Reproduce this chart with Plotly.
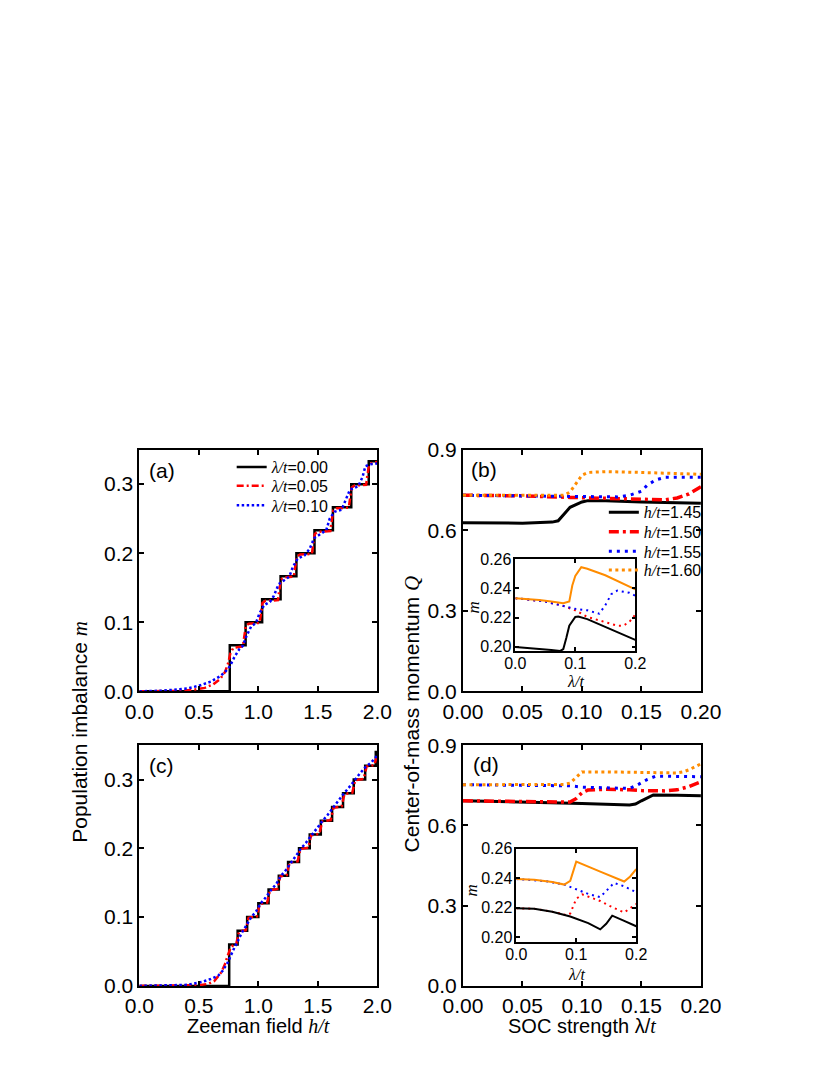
import plotly.graph_objects as go

# ---------------- data ----------------
# panel (a): population imbalance m vs h/t
h_a_l000 = [0, 0.76, 0.893, 1.032, 1.187, 1.32, 1.472, 1.627, 1.781, 1.928, 2.0]
m_a_l000 = [0, 0.0667, 0.1, 0.1333, 0.1667, 0.2, 0.2333, 0.2667, 0.3, 0.3333, 0.3333]
h_a_l005 = [0, 0.3, 0.45, 0.55, 0.62, 0.68, 0.72, 0.745, 0.765, 0.79, 0.87, 0.88, 0.895, 0.92,
            1.01, 1.02, 1.035, 1.06, 1.165, 1.175, 1.19, 1.22, 1.298, 1.308, 1.323, 1.35,
            1.45, 1.46, 1.475, 1.5, 1.605, 1.615, 1.63, 1.66, 1.76, 1.77, 1.785, 1.81,
            1.906, 1.916, 1.931, 1.96, 2.0]
m_a_l005 = [0, 0.0005, 0.002, 0.005, 0.01, 0.018, 0.028, 0.04, 0.055, 0.063, 0.065, 0.075, 0.095, 0.098,
            0.099, 0.11, 0.128, 0.131, 0.132, 0.145, 0.162, 0.165, 0.166, 0.178, 0.195, 0.198,
            0.199, 0.212, 0.228, 0.231, 0.232, 0.245, 0.262, 0.265, 0.266, 0.278, 0.295, 0.298,
            0.299, 0.312, 0.328, 0.331, 0.332]
h_a_l010 = [0, 0.2, 0.4, 0.5, 0.6, 0.68, 0.72, 0.76, 0.8, 0.84, 0.87, 0.9, 0.94, 0.98, 1.01, 1.05,
            1.1, 1.13, 1.17, 1.22, 1.26, 1.29, 1.33, 1.39, 1.43, 1.47, 1.52, 1.57, 1.6, 1.64,
            1.7, 1.74, 1.77, 1.84, 1.875, 1.9, 1.95, 2.0]
m_a_l010 = [0, 0.001, 0.004, 0.008, 0.014, 0.022, 0.028, 0.036, 0.05, 0.061, 0.066, 0.08, 0.094, 0.099,
            0.113, 0.125, 0.13, 0.138, 0.155, 0.161, 0.166, 0.18, 0.192, 0.197, 0.206, 0.222,
            0.228, 0.233, 0.25, 0.26, 0.263, 0.28, 0.292, 0.297, 0.31, 0.326, 0.329, 0.33]

# panel (c)
h_c_l000 = [0, 0.755, 0.826, 0.906, 1.0, 1.086, 1.172, 1.25, 1.342, 1.432, 1.525, 1.62, 1.712,
            1.802, 1.898, 1.987, 2.0]
m_c_l000 = [0, 0.06, 0.08, 0.1, 0.12, 0.14, 0.16, 0.18, 0.2, 0.22, 0.24, 0.26, 0.28, 0.3, 0.32,
            0.34, 0.34]
h_c_l005 = [0, 0.3, 0.5, 0.58, 0.63, 0.69, 0.72, 0.745, 0.77,
            0.814, 0.826, 0.838, 0.894, 0.906, 0.918, 0.988, 1.0, 1.012, 1.074, 1.086, 1.098,
            1.16, 1.172, 1.184, 1.238, 1.25, 1.262, 1.33, 1.342, 1.354, 1.42, 1.432, 1.444,
            1.513, 1.525, 1.537, 1.608, 1.62, 1.632, 1.7, 1.712, 1.724, 1.79, 1.802, 1.814,
            1.886, 1.898, 1.91, 1.975, 1.987, 2.0]
m_c_l005 = [0, 0.0003, 0.001, 0.003, 0.007, 0.02, 0.032, 0.045, 0.057,
            0.061, 0.072, 0.079, 0.081, 0.092, 0.099, 0.101, 0.112, 0.119, 0.121, 0.132, 0.139,
            0.141, 0.152, 0.159, 0.161, 0.172, 0.179, 0.181, 0.192, 0.199, 0.201, 0.212, 0.219,
            0.221, 0.232, 0.239, 0.241, 0.252, 0.259, 0.261, 0.272, 0.279, 0.281, 0.292, 0.299,
            0.301, 0.312, 0.319, 0.321, 0.33, 0.336]
h_c_l010 = [0, 0.2, 0.4, 0.53, 0.6, 0.664, 0.7, 0.74, 0.77, 0.8, 0.83, 0.86, 0.9, 0.94, 0.98,
            1.02, 1.06, 1.1, 1.15, 1.19, 1.23, 1.27, 1.31, 1.36, 1.4, 1.45, 1.49, 1.54, 1.58,
            1.63, 1.67, 1.72, 1.76, 1.81, 1.85, 1.9, 1.95, 2.0]
m_c_l010 = [0, 0.0005, 0.0015, 0.006, 0.01, 0.015, 0.022, 0.033, 0.045, 0.056, 0.066, 0.077,
            0.088, 0.1, 0.108, 0.12, 0.128, 0.138, 0.148, 0.16, 0.168, 0.178, 0.188, 0.2, 0.208,
            0.22, 0.228, 0.24, 0.248, 0.26, 0.268, 0.28, 0.288, 0.3, 0.308, 0.318, 0.325, 0.335]

# panel (b): Q vs lambda/t
l_b_h145 = [0, 0.05, 0.075, 0.08, 0.09, 0.1, 0.105, 0.12, 0.15, 0.2]
q_b_h145 = [0.628, 0.626, 0.63, 0.635, 0.685, 0.705, 0.71, 0.71, 0.705, 0.70]
l_b_h150 = [0, 0.05, 0.09, 0.12, 0.15, 0.17, 0.18, 0.19, 0.2]
q_b_h150 = [0.73, 0.728, 0.722, 0.718, 0.713, 0.713, 0.72, 0.735, 0.762]
l_b_h155 = [0, 0.05, 0.1, 0.13, 0.14, 0.15, 0.155, 0.162, 0.17, 0.2]
q_b_h155 = [0.73, 0.728, 0.725, 0.724, 0.73, 0.745, 0.768, 0.787, 0.797, 0.797]
l_b_h160 = [0, 0.05, 0.085, 0.09, 0.095, 0.1, 0.105, 0.12, 0.15, 0.2]
q_b_h160 = [0.73, 0.729, 0.73, 0.742, 0.775, 0.805, 0.815, 0.818, 0.815, 0.808]

# inset (b): m vs lambda/t
l_bi_h145 = [0, 0.03, 0.06, 0.075, 0.08, 0.085, 0.09, 0.1, 0.105, 0.12, 0.15, 0.2]
m_bi_h145 = [0.1998, 0.199, 0.1978, 0.1972, 0.1985, 0.206, 0.2145, 0.2205, 0.2208, 0.219, 0.2135, 0.2048]
l_bi_h150 = [0, 0.05, 0.08, 0.1, 0.12, 0.15, 0.17, 0.18, 0.19, 0.2]
m_bi_h150 = [0.2333, 0.231, 0.228, 0.225, 0.2205, 0.217, 0.2145, 0.2145, 0.217, 0.222]
l_bi_h155 = [0, 0.05, 0.08, 0.1, 0.12, 0.14, 0.15, 0.16, 0.17, 0.18, 0.19, 0.2]
m_bi_h155 = [0.2333, 0.231, 0.228, 0.226, 0.225, 0.2227, 0.2285, 0.236, 0.2385, 0.238, 0.237, 0.235]
l_bi_h160 = [0, 0.02, 0.04, 0.06, 0.08, 0.09, 0.095, 0.1, 0.11, 0.12, 0.15, 0.2]
m_bi_h160 = [0.2333, 0.2328, 0.232, 0.231, 0.2298, 0.231, 0.242, 0.2485, 0.2545, 0.2535, 0.249, 0.2393]

# panel (d)
l_d_h145 = [0, 0.05, 0.1, 0.14, 0.145, 0.15, 0.16, 0.18, 0.2]
q_d_h145 = [0.692, 0.688, 0.682, 0.676, 0.68, 0.692, 0.714, 0.713, 0.711]
l_d_h150 = [0, 0.05, 0.08, 0.09, 0.095, 0.1, 0.105, 0.12, 0.14, 0.15, 0.17, 0.18, 0.19, 0.2]
q_d_h150 = [0.692, 0.689, 0.686, 0.687, 0.7, 0.722, 0.732, 0.735, 0.733, 0.73, 0.729, 0.733, 0.745, 0.763]
l_d_h155 = [0, 0.05, 0.09, 0.1, 0.13, 0.14, 0.147, 0.155, 0.162, 0.18, 0.2]
q_d_h155 = [0.752, 0.751, 0.748, 0.743, 0.738, 0.738, 0.752, 0.772, 0.784, 0.784, 0.782]
l_d_h160 = [0, 0.05, 0.085, 0.09, 0.095, 0.1, 0.12, 0.15, 0.18, 0.185, 0.19, 0.2]
q_d_h160 = [0.752, 0.752, 0.753, 0.758, 0.778, 0.8, 0.8, 0.798, 0.796, 0.8, 0.808, 0.83]

# inset (d)
l_di_h145 = [0, 0.03, 0.06, 0.09, 0.12, 0.14, 0.15, 0.16, 0.18, 0.2]
m_di_h145 = [0.2196, 0.2192, 0.2172, 0.214, 0.2095, 0.2052, 0.209, 0.2145, 0.211, 0.2073]
l_di_h150 = [0, 0.03, 0.06, 0.085, 0.09, 0.1, 0.11, 0.14, 0.16, 0.18, 0.2]
m_di_h150 = [0.2196, 0.2192, 0.2172, 0.2148, 0.216, 0.226, 0.229, 0.2245, 0.2203, 0.2167, 0.2225]
l_di_h155 = [0, 0.05, 0.08, 0.1, 0.12, 0.14, 0.15, 0.163, 0.18, 0.2]
m_di_h155 = [0.2395, 0.238, 0.2357, 0.2325, 0.2293, 0.2272, 0.2315, 0.2368, 0.2345, 0.2305]
l_di_h160 = [0, 0.03, 0.06, 0.08, 0.09, 0.1, 0.14, 0.18, 0.19, 0.2]
m_di_h160 = [0.2395, 0.239, 0.2375, 0.2357, 0.2382, 0.2513, 0.2445, 0.2378, 0.2412, 0.2462]

lam_labels = ["0.00", "0.05", "0.10"]
h_labels = ["1.45", "1.50", "1.55", "1.60"]

# ---------------- styling ----------------
W, H = 830, 1075
SANS = "Liberation Sans, Arial, sans-serif"
BLACK, RED, BLUE, ORANGE = "#000000", "#FF0000", "#0000FF", "#FF8C00"


def px_x(p):
    return p / W


def px_y(p):
    return 1 - p / H


def sit(t):
    return "<span style='font-family:Liberation Serif'><i>%s</i></span>" % t


fig = go.Figure()

# legend rows (pixel centres) for the two legends
leg_a_rows = [457, 476, 496]
leg_b_rows = [503, 523, 543, 562]
leg_a_ids = ["legend", "legend2", "legend3"]
leg_b_ids = ["legend4", "legend5", "legend6", "legend7"]

# panel (a)
a_series = [(h_a_l000, m_a_l000, BLACK, None, 2.5, "hv"),
            (h_a_l005, m_a_l005, RED, "7px,3px,2px,3px", 2.5, "linear"),
            (h_a_l010, m_a_l010, BLUE, "2.5px,2.5px", 2.5, "linear")]
for (hx, my, col, dash, w, shp), lab, lid in zip(a_series, lam_labels, leg_a_ids):
    assert len(hx) == len(my)
    fig.add_trace(go.Scatter(x=hx, y=my, mode="lines", xaxis="x", yaxis="y",
                             line=dict(color=col, width=w, dash=dash, shape=shp),
                             name="%s=%s" % (sit("λ/t"), lab), legend=lid))

# panel (c)
c_series = [(h_c_l000, m_c_l000, BLACK, None, 2.5, "hv"),
            (h_c_l005, m_c_l005, RED, "7px,3px,2px,3px", 2.5, "linear"),
            (h_c_l010, m_c_l010, BLUE, "2.5px,2.5px", 2.5, "linear")]
for hx, my, col, dash, w, shp in c_series:
    assert len(hx) == len(my)
    fig.add_trace(go.Scatter(x=hx, y=my, mode="lines", xaxis="x3", yaxis="y3",
                             line=dict(color=col, width=w, dash=dash, shape=shp),
                             showlegend=False))

main_styles = [(BLACK, None, 3), (RED, "10px,4px,3px,4px", 3.5),
               (BLUE, "3px,5px", 3), (ORANGE, "3px,3.5px", 3)]
inset_styles = [(BLACK, None, 2), (RED, "2px,4px", 2), (BLUE, "2px,4px", 2), (ORANGE, None, 2)]

b_main = [(l_b_h145, q_b_h145), (l_b_h150, q_b_h150), (l_b_h155, q_b_h155), (l_b_h160, q_b_h160)]
d_main = [(l_d_h145, q_d_h145), (l_d_h150, q_d_h150), (l_d_h155, q_d_h155), (l_d_h160, q_d_h160)]
b_ins = [(l_bi_h145, m_bi_h145), (l_bi_h150, m_bi_h150), (l_bi_h155, m_bi_h155), (l_bi_h160, m_bi_h160)]
d_ins = [(l_di_h145, m_di_h145), (l_di_h150, m_di_h150), (l_di_h155, m_di_h155), (l_di_h160, m_di_h160)]

for (lx, qy), (col, dash, w), lab, lid in zip(b_main, main_styles, h_labels, leg_b_ids):
    assert len(lx) == len(qy)
    fig.add_trace(go.Scatter(x=lx, y=qy, mode="lines", xaxis="x2", yaxis="y2",
                             line=dict(color=col, width=w, dash=dash),
                             name="%s=%s" % (sit("h/t"), lab), legend=lid))
for (lx, qy), (col, dash, w) in zip(d_main, main_styles):
    assert len(lx) == len(qy)
    fig.add_trace(go.Scatter(x=lx, y=qy, mode="lines", xaxis="x4", yaxis="y4",
                             line=dict(color=col, width=w, dash=dash), showlegend=False))
# insets: dotted curves first, solid ones on top
order = [1, 2, 0, 3]
for i in order:
    lx, my = b_ins[i]
    col, dash, w = inset_styles[i]
    assert len(lx) == len(my)
    fig.add_trace(go.Scatter(x=lx, y=my, mode="lines", xaxis="x5", yaxis="y5",
                             line=dict(color=col, width=w, dash=dash), showlegend=False))
for i in order:
    lx, my = d_ins[i]
    col, dash, w = inset_styles[i]
    assert len(lx) == len(my)
    fig.add_trace(go.Scatter(x=lx, y=my, mode="lines", xaxis="x6", yaxis="y6",
                             line=dict(color=col, width=w, dash=dash), showlegend=False))


def ax(domain, anchor, rng, dtick, fmt, size=21, lw=2, tl=5, standoff=0):
    return dict(domain=domain, anchor=anchor, range=rng, dtick=dtick, tick0=0,
                tickformat=fmt, showline=True, linecolor="black", linewidth=lw,
                mirror="ticks", ticks="inside", ticklen=tl, tickwidth=1.5,
                tickcolor="black", showgrid=False, zeroline=False,
                ticklabelstandoff=standoff,
                tickfont=dict(family=SANS, size=size, color="black"))


XA = [px_x(117), px_x(367)]
XB = [px_x(457), px_x(707)]
YTOP = [px_y(686), px_y(439)]
YBOT = [px_y(987), px_y(741)]

layout = dict(
    width=W, height=H, margin=dict(l=0, r=0, t=0, b=0),
    paper_bgcolor="white", plot_bgcolor="white",
    xaxis=ax(XA, "y", [0, 2], 0.5, ".1f"),
    yaxis=ax(YTOP, "x", [0, 0.35], 0.1, ".1f"),
    xaxis3=ax(XA, "y3", [0, 2], 0.5, ".1f"),
    yaxis3=ax(YBOT, "x3", [0, 0.35], 0.1, ".1f"),
    xaxis2=ax(XB, "y2", [0, 0.2], 0.05, ".2f"),
    yaxis2=ax(YTOP, "x2", [0, 0.9], 0.3, ".1f"),
    xaxis4=ax(XB, "y4", [0, 0.2], 0.05, ".2f"),
    yaxis4=ax(YBOT, "x4", [0, 0.9], 0.3, ".1f"),
    xaxis5=ax([px_x(512), px_x(638)], "y5", [0, 0.2], 0.1, ".1f", size=16, lw=1.5, tl=4,
              standoff=-3),
    yaxis5=ax([px_y(645), px_y(551)], "x5", [0.197, 0.26], 0.02, ".2f", size=16, lw=1.5, tl=4,
              standoff=-1),
    xaxis6=ax([px_x(513), px_x(639)], "y6", [0, 0.2], 0.1, ".1f", size=16, lw=1.5, tl=4,
              standoff=-3),
    yaxis6=ax([px_y(942), px_y(847)], "x6", [0.1967, 0.26], 0.02, ".2f", size=16, lw=1.5, tl=4,
              standoff=-1),
)
for lid, row in zip(leg_a_ids, leg_a_rows):
    layout[lid] = dict(x=px_x(214), y=px_y(row), xanchor="left", yanchor="middle",
                       bgcolor="rgba(0,0,0,0)", borderwidth=0,
                       font=dict(family=SANS, size=16, color="black"))
for lid, row in zip(leg_b_ids, leg_b_rows):
    layout[lid] = dict(x=px_x(605), y=px_y(row), xanchor="left", yanchor="middle",
                       bgcolor="rgba(0,0,0,0)", borderwidth=0,
                       font=dict(family=SANS, size=16, color="black"))
fig.update_layout(**layout)

annots = [
    ("(a)", 125, 460, 21, 0, "left"),
    ("(c)", 125, 762, 21, 0, "left"),
    ("(b)", 463, 459, 21, 0, "left"),
    ("(d)", 465, 761, 21, 0, "left"),
    ("Population imbalance " + sit("m"), 55, 727, 21, -90, "center"),
    ("Center-of-mass momentum " + sit("Q"), 403, 709, 21, -90, "center"),
    ("Zeeman field " + sit("h/t"), 242, 1028, 20, 0, "center"),
    ("SOC strength λ/" + sit("t"), 582, 1028, 20, 0, "center"),
    (sit("m"), 468, 600, 17, -90, "center"),
    (sit("λ/t"), 575, 676, 16, 0, "center"),
    (sit("m"), 466, 890, 17, -90, "center"),
    (sit("λ/t"), 576, 975, 16, 0, "center"),
]
for txt, xp, yp, sz, ang, xa in annots:
    fig.add_annotation(text=txt, x=px_x(xp), y=px_y(yp), xref="paper", yref="paper",
                       xanchor=xa, yanchor="middle", showarrow=False, textangle=ang,
                       font=dict(family=SANS, size=sz, color="black"))

fig.write_html("out.html")
